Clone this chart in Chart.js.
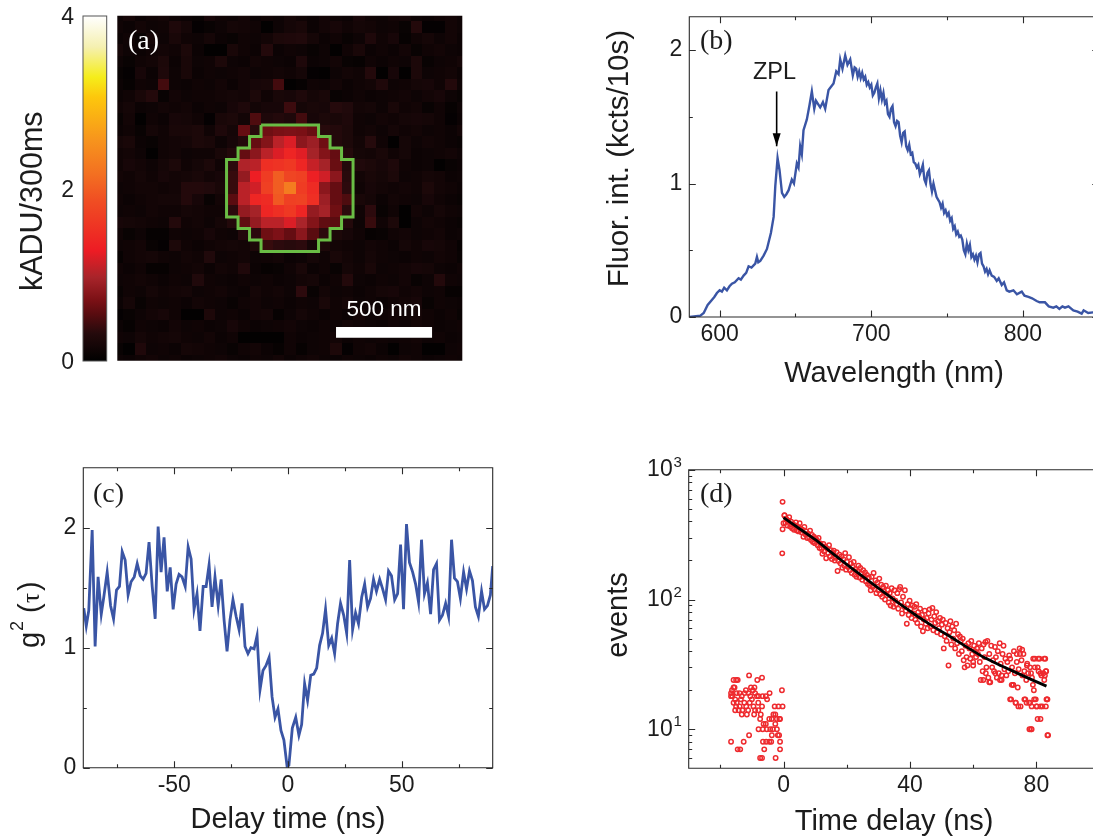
<!DOCTYPE html>
<html>
<head>
<title>Single emitter characterisation</title>
<style type="text/css">
html, body { margin: 0; padding: 0; background: #fff; overflow: hidden; width: 1093px; height: 836px; }
canvas { position: absolute; }
</style>
</head>
<body>
<canvas id="cbar" width="110" height="420" style="left:0;top:-20px"></canvas>
<canvas id="heat" width="355" height="355" style="left:112px;top:10px"></canvas>
<canvas id="spec" width="505" height="420" style="left:600px;top:-20px"></canvas>
<canvas id="g2" width="500" height="400" style="left:0;top:440px"></canvas>
<canvas id="decay" width="505" height="400" style="left:600px;top:440px"></canvas>
<script src="https://cdn.jsdelivr.net/npm/chart.js@4"></script>
<script>
// (a) camera image, hundredths of kADU, row 0 on top
var heatRows = [
[12,18,10,14,16,12,10,8,20,14,12,16,10,14,12,18,14,10,16,12,10,20,14,12,16,18,12,10,14,16,12],
[14,10,16,12,14,26,18,4,8,12,18,16,14,3,12,18,22,10,16,20,14,18,16,12,14,8,30,4,4,16,12],
[10,14,8,18,12,22,14,12,18,10,8,14,12,16,24,26,28,18,10,14,8,12,26,14,20,6,14,18,12,16,10],
[18,12,10,14,16,14,24,10,3,3,22,14,10,30,10,14,12,8,12,3,14,22,10,14,10,16,8,14,16,12,10],
[12,8,14,16,24,10,22,12,14,24,12,10,16,14,12,10,26,10,12,16,8,6,14,10,14,12,24,8,12,14,18],
[8,4,20,10,26,12,22,10,14,12,14,16,12,14,16,14,18,4,3,12,16,14,30,3,20,3,24,12,14,16,10],
[10,6,14,12,45,12,10,14,12,16,10,16,20,22,45,3,6,14,12,16,10,14,16,27,12,14,18,20,14,30,12],
[10,14,22,30,8,16,12,14,14,16,18,16,24,14,22,20,26,18,22,8,10,14,10,12,14,16,12,16,20,12,8],
[14,18,10,12,16,14,16,10,14,12,20,26,16,20,20,42,18,22,20,32,28,16,18,12,22,14,16,8,14,6,12],
[8,16,3,14,10,20,18,14,4,22,24,16,50,26,30,26,45,20,24,22,26,14,12,16,14,18,20,18,14,4,10],
[10,14,8,18,14,22,22,24,14,26,18,60,33,65,70,72,70,62,33,30,24,14,16,12,18,14,16,12,14,10,16],
[18,22,10,8,14,16,18,24,22,12,20,30,60,75,105,120,80,90,65,30,24,16,32,14,3,18,12,16,14,10,8],
[14,16,12,3,14,16,12,14,14,22,30,60,80,105,120,138,122,95,75,60,30,18,16,22,14,18,10,12,14,16,12],
[14,20,16,12,18,24,14,18,24,14,35,100,105,150,155,160,140,110,95,62,30,28,24,20,26,14,10,12,3,8,10],
[16,14,18,14,20,16,18,22,16,20,40,85,130,165,200,175,170,133,115,80,33,16,22,18,24,12,14,18,16,10,12],
[12,14,16,16,14,16,30,30,28,22,40,105,115,170,200,230,165,145,80,60,35,14,20,16,14,16,14,24,16,14,10],
[14,10,14,16,18,18,30,20,8,16,55,105,140,145,195,170,172,150,90,60,50,22,18,10,16,14,12,20,14,10,8],
[12,14,12,16,14,14,18,16,14,14,35,85,95,140,150,160,138,85,95,65,35,14,35,8,14,3,16,12,18,14,12],
[20,18,16,14,12,30,14,16,12,18,30,58,85,105,105,120,98,75,58,55,30,12,40,14,24,3,12,16,14,10,8],
[14,8,12,5,5,14,12,14,20,14,12,30,35,65,72,60,80,55,35,25,20,14,6,8,14,16,12,14,16,10,12],
[12,14,16,8,4,24,14,10,14,16,18,16,25,40,35,33,35,20,25,16,14,12,16,14,10,18,14,20,18,14,6],
[6,14,16,18,14,12,16,14,28,12,14,16,12,14,16,10,12,18,14,22,16,12,18,14,12,10,14,12,16,14,8],
[14,10,14,6,6,12,14,16,10,16,14,27,10,6,8,14,22,10,14,8,18,14,22,12,14,16,20,18,12,10,14],
[12,14,16,14,10,14,12,28,14,12,10,14,12,14,10,12,16,18,10,14,30,12,10,14,12,16,8,12,30,14,12],
[8,14,12,18,14,16,18,12,14,16,12,10,18,14,16,12,35,8,16,12,14,10,14,18,20,14,16,12,14,6,6],
[10,18,8,14,12,14,10,16,14,12,8,14,16,12,14,10,14,12,22,14,18,12,14,10,14,16,20,8,14,12,10],
[4,8,12,16,20,14,3,3,25,12,14,10,16,18,6,12,18,14,10,14,10,18,12,14,16,14,18,14,10,14,8],
[10,6,14,12,10,16,12,14,10,12,20,14,10,12,14,16,12,10,14,12,16,14,12,10,14,12,16,14,10,12,14],
[14,12,18,14,16,18,14,12,16,10,14,3,3,3,3,14,10,12,14,16,10,14,12,14,12,14,16,12,14,10,12],
[8,3,27,12,14,10,18,16,14,12,8,14,16,10,6,14,6,12,14,25,4,14,16,10,3,12,14,3,3,12,14],
[12,10,14,16,12,14,10,12,14,16,12,10,14,12,16,10,14,16,12,10,14,12,10,14,12,16,14,10,12,14,12]
];
var contourX = [12.5,17.5,17.5,18.5,18.5,19.5,19.5,20.5,20.5,19.5,19.5,18.5,18.5,17.5,17.5,12.5,12.5,11.5,11.5,10.5,10.5,9.5,9.5,10.5,10.5,11.5,11.5,12.5,12.5];
var contourY = [9.5,9.5,10.5,10.5,11.5,11.5,12.5,12.5,17.5,17.5,18.5,18.5,19.5,19.5,20.5,20.5,19.5,19.5,18.5,18.5,17.5,17.5,12.5,12.5,11.5,11.5,10.5,10.5,9.5];
var scaleBarX = [19.02,27.37];
var scaleBarY = [27.53,27.53];
var colorLevels = [0,0.32,0.55,0.7,0.97,1.28,1.86,2.17,2.56,3.06,3.29,3.64,4];
var colorHexes = ['#000000','#250a0c','#5a0c10','#7a1015','#a8242a','#ed1c24','#f04e23','#f37021','#f7941d','#fdc70c','#f5ed1a','#f5f0b0','#ffffff'];
var barTicks = [0,2,4];

// (b) spectrum
var specNm = [580.2,587.3,589.5,592.1,595,596.5,598.2,600,601.5,603,604.8,606.5,608.1,610,612.5,614,615.8,617.5,619.1,621,
623.5,624.6,625.5,626.8,629,631.2,633.8,635.6,636.7,638.2,639.5,641.1,642.6,644,645.5,647.6,649,650.9,652,653.1,
654.2,655.3,657.5,659.3,660.8,662.4,663.5,664.6,666.3,668.1,669.6,671.8,675.1,676.9,678.4,679.5,681,682.8,684.3,686.1,
687.8,689,
690,691,692,693,694,695,696,697,698,699,700,701,702,703,704,705,706,707,708,709,
710,711,712,713,714,715,716,717,718,719,720,721,722,723,724,725,726,727,728,729,
730,731,732,733,734,735,736,737,738,739,740,741,742,743,744,745,746,747,748,749,
750,751,752,753,754,755,756,757,758,759,760,761,762,763,764,765,766,767,768,769,
770,771,772,773,774,775,776,777,778,
779.4,781,782.7,784,786,787.5,789.3,791,793.7,796,799.2,801,803.6,806,809,811,814.5,817,820,822,
824,826,827.7,830,833.2,836,838.7,840,843,846.2,850];
var specVal = [0,0.01,0.03,0.09,0.13,0.15,0.18,0.2,0.19,0.22,0.2,0.23,0.25,0.26,0.29,0.28,0.31,0.33,0.38,0.37,
0.4,0.45,0.41,0.42,0.46,0.51,0.63,0.75,0.98,1.19,1.1,0.93,0.9,0.92,0.95,1.03,1.0,1.15,1.12,1.28,
1.22,1.4,1.48,1.59,1.69,1.56,1.62,1.6,1.57,1.61,1.56,1.7,1.75,1.84,1.82,1.93,1.86,1.96,1.89,1.93,
1.81,1.87,
1.86,1.8,1.84,1.79,1.83,1.78,1.8,1.74,1.76,1.72,1.74,1.66,1.68,1.72,1.75,1.64,1.7,1.63,1.68,1.6,
1.62,1.52,1.5,1.56,1.58,1.46,1.43,1.47,1.46,1.36,1.31,1.38,1.39,1.28,1.25,1.29,1.22,1.23,1.16,1.15,
1.12,1.14,1.07,1.1,1.14,1.03,1.0,1.08,1.1,1.0,0.94,1.0,0.95,0.9,0.88,0.86,0.82,0.85,0.78,0.8,
0.76,0.78,0.72,0.74,0.66,0.68,0.62,0.64,0.6,0.61,0.58,0.5,0.47,0.55,0.5,0.54,0.45,0.47,0.43,0.46,
0.41,0.47,0.48,0.4,0.38,0.34,0.36,0.32,0.35,
0.31,0.3,0.27,0.29,0.24,0.26,0.2,0.19,0.2,0.17,0.19,0.16,0.15,0.14,0.12,0.11,0.11,0.08,0.07,0.08,
0.06,0.08,0.07,0.08,0.05,0.04,0.025,0.05,0.03,0.035,0.04];
var specXTicks = [600,650,700,750,800,850];
var specXLabels = [600,700,800];
var specYTicks = [0,0.5,1,1.5,2];
var specYLabels = [0,1,2];
var zplNm = [637.6,637.6];
var zplVal = [1.69,1.28];

// (c) autocorrelation
var g2Time = [-89.8,-88.7,-87.6,-86.1,-84.8,-83.5,-82.1,-81,-79.5,-78,
-76.7,-75.4,-74.1,-72.9,-71.6,-70.3,-69,-67.6,-66.3,-65,
-63.7,-62.4,-61.1,-59.7,-58.4,-57.1,-55.8,-54.5,-53.1,-51.8,
-50.5,-49.2,-47.9,-46.6,-45.2,-43.9,-42.6,-41.3,-40,-38.7,
-37.3,-36,-34.7,-33.4,-32.1,-30.7,-29.4,-28.1,-26.8,-25.5,
-24.2,-22.8,-21.5,-20.2,-18.9,-17.6,-16.3,-14.9,-13.6,-12.3,
-11,-9.7,-8.3,-7,-5.7,-4.4,-3.1,-1.8,-0.4,0.4,
1.9,3.4,4.8,6,7.3,8.6,10,11.3,12.6,13.9,
15.2,16.5,17.9,19.2,20.5,21.8,23.1,24.5,25.8,27.1,
28.4,29.7,31,32.4,33.7,35,36.3,37.6,38.9,40.3,
41.6,42.9,44.2,45.5,46.9,48.2,49.5,50.8,52.1,53.4,
54.8,56.1,57.4,58.7,60,61.3,62.7,64,65.3,66.6,
67.9,69.3,70.6,71.9,73.2,74.5,75.8,77.2,78.5,79.8,
81.1,82.4,83.7,85.1,86.4,87.7,89,90];
var g2Val = [1.33,1.18,1.31,1.98,1.01,1.59,1.28,1.42,1.63,1.35,
1.24,1.48,1.51,1.8,1.73,1.44,1.55,1.59,1.7,1.6,
1.57,1.62,1.88,1.51,1.24,2.01,1.63,1.92,1.47,1.67,
1.32,1.53,1.61,1.59,1.51,1.84,1.74,1.32,1.45,1.14,
1.51,1.51,1.69,1.34,1.59,1.35,1.57,1.23,0.97,1.23,
1.4,1.26,1.15,1.37,1.01,0.95,1,0.99,1.1,0.65,
0.81,0.85,0.92,0.59,0.42,0.49,0.31,0.23,0.01,0.02,
0.33,0.42,0.27,0.36,0.7,0.56,0.77,0.78,0.83,1.02,
1.12,1.32,1.02,1.08,0.95,1.2,1.37,1.27,1.12,1.73,
1.15,1.29,1.2,1.42,1.53,1.34,1.41,1.57,1.47,1.57,
1.49,1.4,1.64,1.6,1.4,1.45,1.86,1.32,2.03,1.71,
1.63,1.53,1.38,1.9,1.45,1.54,1.28,1.65,1.7,1.23,
1.27,1.37,1.26,1.9,1.58,1.55,1.41,1.63,1.49,1.64,
1.56,1.34,1.26,1.47,1.32,1.35,1.44,1.68];
var g2XTicks = [-75,-50,-25,0,25,50,75];
var g2XLabels = [-50,0,50];
var g2YTicks = [0,0.5,1,1.5,2];
var g2YLabels = [0,1,2];

// (d) decay histogram
var decayT = [0.3,0.6,0.9,1.2,1.5,1.8,2.1,2.4,2.7,3,3.3,3.6,3.9,4.2,4.5,4.8,5.1,
5.4,5.7,6,6.3,6.6,6.9,7.2,7.5,7.8,8.1,8.4,8.7,9,9.3,9.6,9.9,10.2,
10.5,10.8,11.1,11.4,11.7,12,12.3,12.6,12.9,13.2,13.5,13.8,14.1,14.4,14.7,15,15.3,
15.6,15.9,16.2,16.5,16.8,17.1,17.4,17.7,18,18.3,18.6,18.9,19.2,19.5,19.8,20.1,20.4,
20.7,21,21.3,21.6,21.9,22.2,22.5,22.8,23.1,23.4,23.7,24,24.3,24.6,24.9,25.2,25.5,
25.8,26.1,26.4,26.7,27,27.3,27.6,27.9,28.2,28.5,28.8,29.1,29.4,29.7,30,30.3,30.6,
30.9,31.2,31.5,31.8,32.1,32.4,32.7,33,33.3,33.6,33.9,34.2,34.5,34.8,35.1,35.4,35.7,
36,36.3,36.6,36.9,37.2,37.5,37.8,38.1,38.4,38.7,39,39.3,39.6,39.9,40.2,40.5,40.8,
41.1,41.4,41.7,42,42.3,42.6,42.9,43.2,43.5,43.8,44.1,44.4,44.7,45,45.3,45.6,45.9,
46.2,46.5,46.8,47.1,47.4,47.7,48,48.3,48.6,48.9,49.2,49.5,49.8,50.1,50.4,50.7,51,
51.3,51.6,51.9,52.2,52.5,52.8,53.1,53.4,53.7,54,54.3,54.6,54.9,55.2,55.5,55.8,56.1,
56.4,56.7,57,57.3,57.6,57.9,58.2,58.5,58.8,59.1,59.4,59.7,60,60.3,60.6,60.9,61.2,
61.5,61.8,62.1,62.4,62.7,63,63.3,63.6,63.9,64.2,64.5,64.8,65.1,65.4,65.7,66,66.3,
66.6,66.9,67.2,67.5,67.8,68.1,68.4,68.7,69,69.3,69.6,69.9,70.2,70.5,70.8,71.1,71.4,
71.7,72,72.3,72.6,72.9,73.2,73.5,73.8,74.1,74.4,74.7,75,75.3,75.6,75.9,76.2,76.5,
76.8,77.1,77.4,77.7,78,78.3,78.6,78.9,79.2,79.5,79.8,80.1,80.4,80.7,81,81.3,81.6,
81.9,82.2,82.5,82.8,83.1,83.4,83.7];
var decayN = [446,390,418,372,405,432,365,398,355,380,345,372,392,340,362,335,388,
352,330,345,305,362,318,335,298,322,300,340,288,315,278,305,272,295,
288,262,298,250,270,245,225,268,235,255,208,248,228,262,215,240,205,
228,238,200,210,232,166,198,222,190,215,176,205,182,228,170,195,178,
212,168,190,160,178,195,155,172,150,165,182,148,175,158,142,168,150,
162,138,155,132,148,128,118,150,125,160,120,140,112,135,118,145,110,
130,105,125,115,100,128,108,118,95,112,90,122,102,88,118,98,92,
112,85,120,125,95,78,105,88,118,82,65,92,76,98,85,72,90,
78,88,70,92,66,80,74,85,62,76,57,70,82,65,72,60,78,
84,62,70,86,58,74,66,80,56,68,60,72,54,64,70,42,52,
66,48,60,31,56,68,45,62,50,58,42,65,46,54,38,52,48,
40,50,34,30,44,36,31,46,42,35,48,38,33,44,40,36,42,
38,46,33,24,42,28,45,36,47,30,48,25,38,23,44,30,34,
28,43,36,25,40,27,46,32,24,38,44,29,35,26,33,28,37,
35,17,30,22,40,27,16,33,21,29,42,15,34,26,38,28,17,
24,32,27,16,30,10,25,22,20,35,17,15,30,28,35,12,26,
15,27,24,35,28,17,9];
var edgeT = [-0.3,-0.4,-0.3,0,0.3,79,80.6,82.5,79.5,81.3,82.7,83,78.3,77,75.5,73.8,74.8,72.2,72.7,74.3,73.4,71.7,76.2,78,79.3,76.9,78.5,80.1,81.3,83,83.2,83.5,80.4,77.8,78.5,83.5,63.2,65.1,68.5,60,64,69,67];
var edgeN = [566,227,348,387,445,35,35,35,30,27,26,28,27,31,41,38,38,22,22,15,16,17,17,16,17,16,15,15,15,15,17,17,12,10,10,9,24,23,24,31,27,26,27];
var darkT = [-15.8,-15,-14.5,-10.9,-8.3,-6.8,-16.6,-16.3,-15.8,-15.5,
-16.6,-16.2,-15.3,-14.8,-13.9,-13.2,-12.3,-11.9,-11.1,-10.3,
-9.7,-9.2,-9,-7.9,-6.6,-5.6,-4.4,-5.2,-15.3,-14.8,
-13.9,-13.5,-13,-12.4,-11.8,-11.2,-10.5,-10,-9.5,-9,
-8.4,-8,-6.8,-15.8,-15,-14.2,-13.2,-11.6,-10.7,-9.3,
-8,-7.2,-2.8,-1.6,-0.3,-1.3,-3.2,-2.6,-4.5,-3.7,
-2.1,-1.1,-7.4,-6.3,-5.6,-2.6,-5.3,-4.2,-3.4,-2.1,
-7.9,-6.6,-1.8,-1.4,-3.7,-10.9,-16.6,-12.6,-6.5,-5.5,
-4.5,-3.9,-1.1,-14.5,-13.7,-6.1,-1.1,-7.4,-6.8,-2.5,-0.5];
var darkN = [24,24,24,26,24,25,19,20,21,21,
18,18,17,19,19,18,19,20,19,21,
20,21,19,18,18,18,19,17,14,16,
15,17,14,16,15,14,18,17,15,14,
18,16,15,16,15,14,13,13,16,13,
14,13,15,15,15,12,13,13,12,12,
12,12,12,11,11,11,10,10,10,10,
10,10,9,9,9,9,8,8,8,8,
8,8,8,7,7,7,7,6,6,6,20];
var fitT = [0,5.3,10.5,15.8,21.1,26.3,31.6,36.9,42.1,47.4,52.7,58,63.2,68.5,73.8,79,83.2];
var fitN = [428,348,284,224,178,143,114.5,92,75,61.8,51.9,43,36,31.2,27.2,23.8,21.5];
var decayXTicks = [-20,0,20,40,60,80,100];
var decayXLabels = [0,40,80];
var decayYTicks = [6,7,8,9,10,20,30,40,50,60,70,80,90,100,200,300,400,500,600,700,800,900,1000];
var decayYLabels = [10,100,1000];

var SANS = '"Liberation Sans", Arial, sans-serif';
var SERIF = '"Liberation Serif", "Times New Roman", serif';
var INK = '#1c1c1c';
var BLUE = '#3a55a5';
var RED = '#ee2a2e';
var NB = '\u00a0';

Chart.defaults.font.family = SANS;
Chart.defaults.color = INK;
Chart.defaults.animation = false;
Chart.defaults.layout.autoPadding = false;
Chart.defaults.plugins.legend.display = false;
Chart.defaults.plugins.tooltip.enabled = false;

function heatColor(v) {
    var i = 0;
    while (i < colorLevels.length - 2 && v > colorLevels[i + 1]) i++;
    var f = Math.min(1, (v - colorLevels[i]) / (colorLevels[i + 1] - colorLevels[i]));
    var a = Chart.helpers.color(colorHexes[i]).rgb;
    var b = Chart.helpers.color(colorHexes[i + 1]).rgb;
    return 'rgb(' + Math.round(a.r + (b.r - a.r) * f) + ',' + Math.round(a.g + (b.g - a.g) * f) + ',' + Math.round(a.b + (b.b - a.b) * f) + ')';
}

function pairs(xs, ys) {
    return xs.map(function (x, i) { return { x: x, y: ys[i] }; });
}

// axis with a typed list of ticks, an unlabelled tick is a minor one
function axis(range, tickValues, labels, size, labelPad, title) {
    return {
        min: range[0],
        max: range[1],
        grid: { display: false, drawTicks: false },
        border: { display: false },
        afterBuildTicks: function (s) { s.ticks = tickValues.map(function (v) { return { value: v }; }); },
        afterFit: function (s) { if (s.isHorizontal()) s.height = size; else s.width = size; },
        ticks: {
            autoSkip: false,
            maxRotation: 0,
            minRotation: 0,
            padding: labelPad,
            color: INK,
            font: { size: 23 },
            callback: function (v) { return labels.indexOf(v) >= 0 ? String(v) : ''; }
        },
        title: title ? {
            display: true,
            text: title.text,
            color: INK,
            font: { size: title.size || 29, lineHeight: 1.2 },
            padding: title.padding
        } : { display: false }
    };
}

// frame with ticks pointing inward on all four sides
var frameTicks = {
    id: 'frameTicks',
    afterDatasetsDraw: function (chart) {
        var c = chart.ctx, a = chart.chartArea;
        var sx = chart.scales.x, sy = chart.scales.y;
        c.save();
        c.strokeStyle = '#2a2a2a';
        c.lineWidth = 1.1;
        c.beginPath();
        sx.ticks.forEach(function (t) {
            var p = Math.round(sx.getPixelForValue(t.value)) + 0.5;
            var len = t.label === '' ? 3.5 : 6.5;
            c.moveTo(p, a.bottom); c.lineTo(p, a.bottom - len);
            c.moveTo(p, a.top); c.lineTo(p, a.top + len);
        });
        sy.ticks.forEach(function (t) {
            var p = Math.round(sy.getPixelForValue(t.value)) + 0.5;
            var len = t.label === '' ? 3.5 : 6.5;
            c.moveTo(a.left, p); c.lineTo(a.left + len, p);
            c.moveTo(a.right, p); c.lineTo(a.right - len, p);
        });
        c.rect(a.left, a.top, a.right - a.left, a.bottom - a.top);
        c.stroke();
        c.restore();
    }
};

// free text of a panel, from chart.options.plugins.panelText.items
var panelText = {
    id: 'panelText',
    afterDatasetsDraw: function (chart, args, opts) {
        var c = chart.ctx;
        (opts.items || []).forEach(function (t) {
            c.save();
            c.font = t.font;
            c.fillStyle = t.color || INK;
            c.textAlign = t.align || 'left';
            c.textBaseline = 'middle';
            c.fillText(t.text, t.x, t.y);
            c.restore();
        });
    }
};

// cells snapped to whole pixels through the scales, so no seams show between them
var heatGrid = {
    id: 'heatGrid',
    beforeDatasetsDraw: function (chart) {
        var c = chart.ctx, a = chart.chartArea;
        var sx = chart.scales.x, sy = chart.scales.y;
        c.save();
        c.beginPath();
        c.rect(a.left, a.top, a.right - a.left, a.bottom - a.top);
        c.clip();
        heatCells.forEach(function (p, i) {
            var x0 = Math.round(sx.getPixelForValue(p.x - 0.5));
            var x1 = Math.round(sx.getPixelForValue(p.x + 0.5));
            var y0 = Math.round(sy.getPixelForValue(p.y - 0.5));
            var y1 = Math.round(sy.getPixelForValue(p.y + 0.5));
            c.fillStyle = heatColors[i];
            c.fillRect(x0, y0, x1 - x0, y1 - y0);
        });
        c.restore();
    }
};

// colour bar (a)
var barAxis = axis([0, 4], barTicks, barTicks, 83, 9, { text: 'kADU/300ms' + NB + NB + NB, size: 30.5, padding: { top: 15 } });
barAxis.ticks.labelOffset = 2;

new Chart(document.getElementById('cbar'), {
    type: 'bar',
    data: {
        labels: ['kADU'],
        datasets: [{
            data: [[0, 4]],
            barPercentage: 1,
            categoryPercentage: 1,
            backgroundColor: function (ctx) {
                var a = ctx.chart.chartArea;
                if (!a) return '#000';
                var g = ctx.chart.ctx.createLinearGradient(0, a.bottom, 0, a.top);
                colorLevels.forEach(function (v, i) { g.addColorStop(v / 4, colorHexes[i]); });
                return g;
            }
        }]
    },
    options: {
        responsive: false,
        layout: { padding: { left: 0, right: 3.3, top: 36, bottom: 39 } },
        scales: {
            x: { display: false },
            y: barAxis
        }
    },
    plugins: [{
        id: 'barEdge',
        afterDatasetsDraw: function (chart) {
            var c = chart.ctx, a = chart.chartArea;
            c.save();
            c.strokeStyle = '#555';
            c.lineWidth = 1;
            c.strokeRect(a.left, a.top, a.right - a.left, a.bottom - a.top);
            c.restore();
        }
    }]
});

// image (a)
var heatCells = [];
heatRows.forEach(function (row, r) {
    row.forEach(function (v, col) { heatCells.push({ x: col, y: r, v: v / 100 }); });
});
var heatColors = heatCells.map(function (p) { return heatColor(p.v); });

new Chart(document.getElementById('heat'), {
    type: 'scatter',
    data: {
        datasets: [
            { data: pairs(contourX, contourY), showLine: true, borderColor: '#6abd45', borderWidth: 3, pointRadius: 0, clip: 0, order: 0 },
            { data: pairs(scaleBarX, scaleBarY), showLine: true, borderColor: '#ffffff', borderWidth: 10.7, pointRadius: 0, borderCapStyle: 'butt', clip: 0, order: 1 }
        ]
    },
    options: {
        responsive: false,
        layout: { padding: { left: 5.3, right: 4.7, top: 5.7, bottom: 4.3 } },
        scales: {
            x: { type: 'linear', display: false, min: 0, max: 30 },
            y: { type: 'linear', display: false, min: 0, max: 30, reverse: true }
        },
        plugins: {
            panelText: { items: [
                { text: '(a)', x: 16, y: 32, font: '28px ' + SERIF, color: '#ffffff' },
                { text: '500 nm', x: 272, y: 300, font: '22.5px ' + SANS, color: '#ffffff', align: 'center' }
            ] }
        }
    },
    plugins: [heatGrid, panelText]
});

// spectrum (b)
new Chart(document.getElementById('spec'), {
    type: 'scatter',
    data: {
        datasets: [
            { data: pairs(zplNm, zplVal), showLine: true, borderColor: '#000', borderWidth: 1.6, pointRadius: 0, order: 0 },
            { data: pairs(specNm, specVal), showLine: true, borderColor: BLUE, borderWidth: 2.4, pointRadius: 0, order: 1 }
        ]
    },
    options: {
        responsive: false,
        layout: { padding: { left: 0, right: 6.2, top: 36.7, bottom: 0 } },
        scales: {
            x: axis([580, 850], specXTicks, specXLabels, 83, 4, { text: 'Wavelength (nm)', padding: { bottom: 9 } }),
            y: axis([0, 2.25], specYTicks, specYLabels, 89.3, 7, { text: NB + NB + 'Fluor. int. (kcts/10s)', size: 29.5, padding: { top: 2 } })
        },
        plugins: {
            panelText: { items: [
                { text: '(b)', x: 100, y: 62, font: '28px ' + SERIF },
                { text: 'ZPL', x: 153, y: 93, font: '23.5px ' + SANS }
            ] }
        }
    },
    plugins: [frameTicks, panelText, {
        id: 'zplHead',
        afterDatasetsDraw: function (chart) {
            var c = chart.ctx;
            var x = chart.scales.x.getPixelForValue(zplNm[1]);
            var y = chart.scales.y.getPixelForValue(zplVal[1]);
            c.save();
            c.fillStyle = '#000';
            c.beginPath();
            c.moveTo(x, y);
            c.lineTo(x - 4, y - 13);
            c.lineTo(x + 4, y - 13);
            c.closePath();
            c.fill();
            c.restore();
        }
    }]
});

// autocorrelation (c)
new Chart(document.getElementById('g2'), {
    type: 'scatter',
    data: {
        datasets: [{ data: pairs(g2Time, g2Val), showLine: true, borderColor: BLUE, borderWidth: 2.8, pointRadius: 0 }]
    },
    options: {
        responsive: false,
        layout: { padding: { left: 0, right: 7.3, top: 27.7, bottom: 0 } },
        scales: {
            x: axis([-90, 90], g2XTicks, g2XLabels, 72.3, 4, { text: 'Delay time (ns)', padding: { bottom: 2.6 } }),
            y: axis([0, 2.5], g2YTicks, g2YLabels, 83.3, 7)
        },
        plugins: {
            panelText: { items: [
                { text: '(c)', x: 93, y: 55, font: '28px ' + SERIF }
            ] }
        }
    },
    plugins: [frameTicks, panelText, {
        id: 'g2Title',
        afterDraw: function (chart) {
            var c = chart.ctx;
            c.save();
            c.translate(39.3, 208);
            c.rotate(-Math.PI / 2);
            c.fillStyle = INK;
            c.textBaseline = 'alphabetic';
            c.font = '29px ' + SANS;
            c.fillText('g', 0, 0);
            c.font = '18px ' + SANS;
            c.fillText('2', 17, -16);
            c.font = '29px ' + SANS;
            c.fillText('(', 35, 0);
            c.font = '25px ' + SERIF;
            c.fillText('\u03C4', 45, 0);
            c.font = '29px ' + SANS;
            c.fillText(')', 57, 0);
            c.restore();
        }
    }]
});

// decay (d)
new Chart(document.getElementById('decay'), {
    type: 'scatter',
    data: {
        datasets: [
            { data: pairs(fitT, fitN), showLine: true, borderColor: '#000', borderWidth: 2.8, pointRadius: 0, order: 0 },
            { data: pairs(decayT, decayN).concat(pairs(edgeT, edgeN), pairs(darkT, darkN)), pointRadius: 2.2, pointBackgroundColor: 'rgba(0,0,0,0)', pointBorderColor: RED, pointBorderWidth: 1.5, order: 1 }
        ]
    },
    options: {
        responsive: false,
        layout: { padding: { left: 0, right: 5.4, top: 27.3, bottom: 0 } },
        scales: {
            x: axis([-30, 100], decayXTicks, decayXLabels, 71.7, 4, { text: 'Time delay (ns)', padding: { bottom: 0.9 } }),
            y: (function () {
                var o = axis([5, 1000], decayYTicks, decayYLabels, 88.7, 16, { text: NB + 'events', padding: { top: 2 } });
                o.type = 'logarithmic';
                o.ticks.callback = function (v) { return decayYLabels.indexOf(v) >= 0 ? '10' : ''; };
                return o;
            })()
        },
        plugins: {
            panelText: { items: [
                { text: '(d)', x: 100, y: 55, font: '28px ' + SERIF }
            ] }
        }
    },
    plugins: [frameTicks, panelText, {
        id: 'decayExponents',
        afterDraw: function (chart) {
            var c = chart.ctx, sy = chart.scales.y;
            c.save();
            c.fillStyle = INK;
            c.font = '15px ' + SANS;
            c.textBaseline = 'middle';
            decayYLabels.forEach(function (v, i) {
                c.fillText(String(i + 1), 73.5, sy.getPixelForValue(v) - 7);
            });
            c.restore();
        }
    }]
});
</script>
</body>
</html>
